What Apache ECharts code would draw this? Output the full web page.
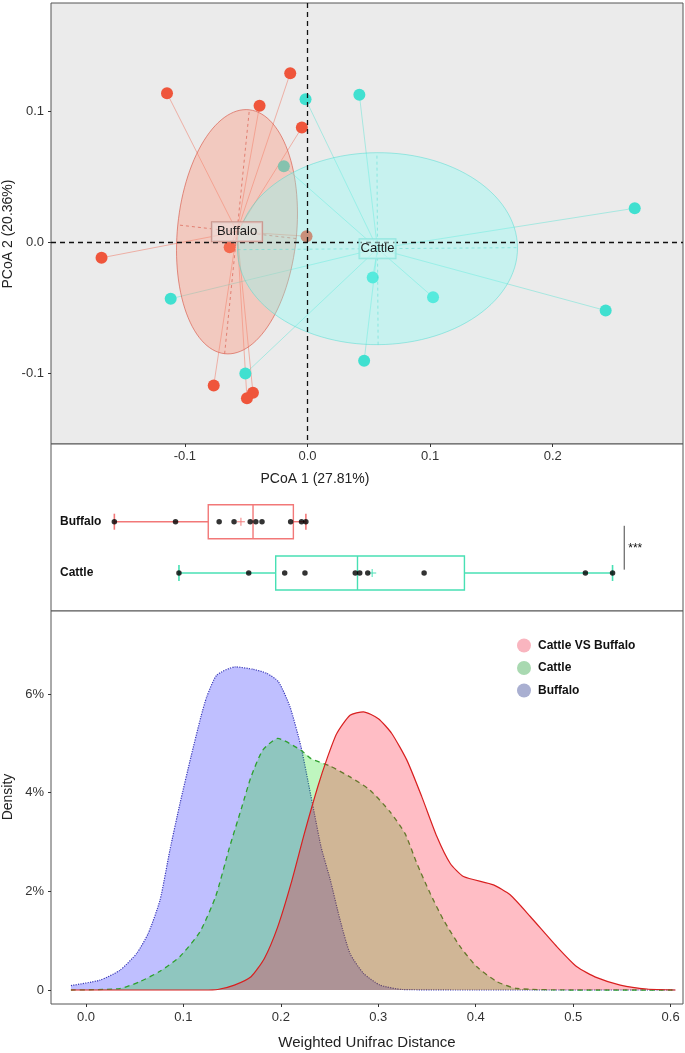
<!DOCTYPE html>
<html><head><meta charset="utf-8">
<script src="https://cdn.jsdelivr.net/npm/echarts@6/dist/echarts.min.js"></script>
<style>html,body{margin:0;padding:0;background:#fff}#c{width:685px;height:1053px}</style>
</head><body><div id="c"></div>
<script>
// ---------- data ----------
const groups = ['Buffalo', 'Cattle'];
const buffaloPC1 = [-0.1146, -0.0141, -0.0391, -0.0046, -0.1680, -0.0635, -0.0765, -0.0445, -0.0494, -0.0008];
const buffaloPC2 = [0.1141, 0.1294, 0.1045, 0.0879, -0.0117, -0.0036, -0.1093, -0.1149, -0.1190, 0.0048];
const cattlePC1 = [-0.0016, 0.0423, -0.0193, 0.2669, -0.1116, -0.0507, 0.0532, 0.1024, 0.2432, 0.0462];
const cattlePC2 = [0.1096, 0.1129, 0.0583, 0.0262, -0.0430, -0.1002, -0.0268, -0.0418, -0.0520, -0.0904];
const pcoaTicksX = [-0.1, 0, 0.1, 0.2];
const pcoaTicksY = [-0.1, 0, 0.1];
const densityTicksX = [0, 0.1, 0.2, 0.3, 0.4, 0.5, 0.6];
const densityTicksY = [0, 0.02, 0.04, 0.06];
const densityNames = ['Cattle VS Buffalo', 'Cattle', 'Buffalo'];
const densBuffalo = [[-0.0154,0.0009],[0.0144,0.0020],[0.0349,0.0040],[0.0520,0.0074],[0.0640,0.0115],[0.0760,0.0182],[0.0862,0.0284],[0.0965,0.0378],[0.1078,0.0473],[0.1180,0.0554],[0.1239,0.0594],[0.1342,0.0638],[0.1530,0.0655],[0.1718,0.0650],[0.1855,0.0642],[0.1975,0.0625],[0.2094,0.0574],[0.2207,0.0493],[0.2276,0.0426],[0.2344,0.0358],[0.2413,0.0290],[0.2505,0.0225],[0.2608,0.0142],[0.2710,0.0074],[0.2847,0.0034],[0.3018,0.0010],[0.3250,0.0001],[0.4000,0],[0.5000,0],[0.6050,0]];
const densCattle = [[-0.0154,0],[0.0349,0.0003],[0.0554,0.0017],[0.0760,0.0038],[0.0965,0.0068],[0.1170,0.0118],[0.1330,0.0189],[0.1470,0.0287],[0.1600,0.0371],[0.1694,0.0432],[0.1814,0.0486],[0.1968,0.0510],[0.2207,0.0486],[0.2310,0.0469],[0.2505,0.0454],[0.2710,0.0432],[0.2916,0.0405],[0.3121,0.0361],[0.3275,0.0317],[0.3395,0.0257],[0.3532,0.0196],[0.3669,0.0142],[0.3840,0.0088],[0.4011,0.0047],[0.4217,0.0017],[0.4422,0.0003],[0.5000,0],[0.6050,0]];
const densBetween = [[-0.0154,0],[0.1200,0],[0.1352,0.0001],[0.1523,0.0010],[0.1694,0.0027],[0.1831,0.0064],[0.1968,0.0128],[0.2105,0.0216],[0.2241,0.0317],[0.2379,0.0412],[0.2481,0.0473],[0.2574,0.0520],[0.2710,0.0557],[0.2847,0.0564],[0.3001,0.0550],[0.3138,0.0520],[0.3293,0.0466],[0.3446,0.0392],[0.3601,0.0311],[0.3737,0.0257],[0.3874,0.0230],[0.4182,0.0213],[0.4353,0.0193],[0.4559,0.0149],[0.4832,0.0088],[0.5038,0.0047],[0.5243,0.0025],[0.5483,0.0010],[0.5757,0.0002],[0.6050,0]];

// ---------- derived ----------
const pc1 = [buffaloPC1, cattlePC1];
const pc2 = [buffaloPC2, cattlePC2];
const ptColor = ['#EF553B', '#40E0D0'];
const ellFill = ['rgba(255,140,115,0.36)', 'rgba(130,255,245,0.34)'];
const ellStroke = ['rgba(215,85,70,0.8)', 'rgba(60,215,205,0.55)'];
const boxColor = ['#F27878', '#48E0B4'];
const groupY = [2, 1];

function ellStats(xs, ys) {
  const n = xs.length;
  const mx = xs.reduce((a, b) => a + b, 0) / n, my = ys.reduce((a, b) => a + b, 0) / n;
  let sxx = 0, syy = 0, sxy = 0;
  for (let i = 0; i < n; i++) { const dx = xs[i] - mx, dy = ys[i] - my; sxx += dx * dx; syy += dy * dy; sxy += dx * dy; }
  sxx /= n; syy /= n; sxy /= n;
  const th = 0.5 * Math.atan2(2 * sxy, sxx - syy);
  const m = (sxx + syy) / 2, r = Math.sqrt(((sxx - syy) / 2) ** 2 + sxy * sxy);
  return { mx, my, a: Math.sqrt(m + r), b: Math.sqrt(Math.max(m - r, 0)), th };
}
const ell = groups.map((g, i) => ellStats(pc1[i], pc2[i]));

function q6(s, p) {
  const n = s.length, h = (n + 1) * p;
  if (h <= 1) return s[0];
  if (h >= n) return s[n - 1];
  const lo = Math.floor(h);
  return s[lo - 1] + (h - lo) * (s[lo] - s[lo - 1]);
}
const boxData = groups.map((g, i) => {
  const s = pc1[i].slice().sort((a, b) => a - b);
  const q1 = q6(s, 0.25), med = q6(s, 0.5), q3 = q6(s, 0.75), iqr = q3 - q1;
  const lo = Math.min(...s.filter(v => v >= q1 - 1.5 * iqr));
  const hi = Math.max(...s.filter(v => v <= q3 + 1.5 * iqr));
  const mean = s.reduce((a, b) => a + b, 0) / s.length;
  return [groupY[i], lo, q1, med, q3, hi, mean, i];
});
const allPC1 = buffaloPC1.concat(cattlePC1);
const sigX = Math.max(...allPC1) + 0.0102;

const FONT = '"Liberation Sans", Arial, sans-serif';
const chart = echarts.init(document.getElementById('c'));

const series = [];
// spider lines
series.push({
  type: 'custom', name: 'spider', xAxisIndex: 0, yAxisIndex: 0, z: 1, silent: true,
  encode: { x: 0, y: 1 },
  data: groups.flatMap((g, i) => pc1[i].map((v, k) => [v, pc2[i][k], i])),
  renderItem: (params, api) => {
    const i = api.value(2), p = api.coord([api.value(0), api.value(1)]), c = api.coord([ell[i].mx, ell[i].my]);
    return { type: 'line', shape: { x1: p[0], y1: p[1], x2: c[0], y2: c[1] }, style: { stroke: ptColor[i], opacity: 0.5, lineWidth: 0.8 } };
  }
});
// points
groups.forEach((g, i) => {
  series.push({
    type: 'scatter', name: g + ' samples', xAxisIndex: 0, yAxisIndex: 0, z: 2, silent: true,
    symbolSize: 12, itemStyle: { color: ptColor[i], opacity: 1 },
    data: pc1[i].map((v, k) => [v, pc2[i][k]])
  });
});
// ellipses
series.push({
  type: 'custom', name: 'ellipses', xAxisIndex: 0, yAxisIndex: 0, z: 3, silent: true,
  encode: { x: 0, y: 1 },
  data: ell.map((e, i) => [e.mx, e.my, i]),
  renderItem: (params, api) => {
    const i = api.value(2), e = ell[i];
    const ct = Math.cos(e.th), st = Math.sin(e.th);
    const pts = [];
    for (let k = 0; k <= 120; k++) {
      const t = 2 * Math.PI * k / 120, c = Math.cos(t), s = Math.sin(t);
      pts.push(api.coord([e.mx + e.a * c * ct - e.b * s * st, e.my + e.a * c * st + e.b * s * ct]));
    }
    const A1 = api.coord([e.mx - e.a * ct, e.my - e.a * st]), A2 = api.coord([e.mx + e.a * ct, e.my + e.a * st]);
    const B1 = api.coord([e.mx + e.b * st, e.my - e.b * ct]), B2 = api.coord([e.mx - e.b * st, e.my + e.b * ct]);
    return { type: 'group', children: [
      { type: 'polygon', shape: { points: pts }, style: { fill: ellFill[i], stroke: ellStroke[i], lineWidth: 0.8 } },
      { type: 'line', shape: { x1: A1[0], y1: A1[1], x2: A2[0], y2: A2[1] }, style: { stroke: ellStroke[i], lineWidth: 0.8, lineDash: [3, 3] } },
      { type: 'line', shape: { x1: B1[0], y1: B1[1], x2: B2[0], y2: B2[1] }, style: { stroke: ellStroke[i], lineWidth: 0.8, lineDash: [3, 3] } }
    ] };
  }
});
// zero reference lines
series.push({
  type: 'custom', name: 'zero', xAxisIndex: 0, yAxisIndex: 0, z: 4, silent: true,
  encode: { x: 0, y: 1 }, data: [[0, 0]],
  renderItem: (params, api) => {
    const cs = params.coordSys, p = api.coord([0, 0]);
    return { type: 'group', children: [
      { type: 'line', shape: { x1: cs.x, y1: p[1], x2: cs.x + cs.width, y2: p[1] }, style: { stroke: '#111', lineWidth: 1.3, lineDash: [5, 4] } },
      { type: 'line', shape: { x1: p[0], y1: cs.y, x2: p[0], y2: cs.y + cs.height }, style: { stroke: '#111', lineWidth: 1.3, lineDash: [5, 4] } }
    ] };
  }
});
// centroid labels
series.push({
  type: 'custom', name: 'centroids', xAxisIndex: 0, yAxisIndex: 0, z: 5, silent: true,
  encode: { x: 0, y: 1 },
  data: ell.map((e, i) => [e.mx, e.my, i]),
  renderItem: (params, api) => {
    const i = api.value(2), c = api.coord([api.value(0), api.value(1)]);
    return { type: 'text', x: c[0], y: c[1], style: {
      text: groups[i], font: '13px ' + FONT, fill: '#1a1a1a', align: 'center', verticalAlign: 'middle',
      backgroundColor: i === 0 ? 'rgba(236,224,220,0.6)' : 'rgba(205,248,244,0.5)',
      borderColor: i === 0 ? '#C9958C' : '#90E6DF', borderWidth: 1, padding: i === 0 ? [3, 5, 3, 5] : [3, 1, 3, 1] } };
  }
});
// box plots
series.push({
  type: 'custom', name: 'boxes', xAxisIndex: 1, yAxisIndex: 1, z: 2, silent: true,
  encode: { x: [1, 2, 3, 4, 5], y: 0 },
  data: boxData,
  renderItem: (params, api) => {
    const y = api.value(0), i = api.value(7), col = boxColor[i];
    const P = v => api.coord([v, y]);
    const lo = P(api.value(1)), q1 = P(api.value(2)), md = P(api.value(3)), q3 = P(api.value(4)), hi = P(api.value(5)), mn = P(api.value(6));
    const cy = lo[1], h = 17, cap = 8, pl = 4;
    const st = { stroke: col, lineWidth: 1.4, fill: null };
    return { type: 'group', children: [
      { type: 'line', shape: { x1: lo[0], y1: cy, x2: q1[0], y2: cy }, style: st },
      { type: 'line', shape: { x1: q3[0], y1: cy, x2: hi[0], y2: cy }, style: st },
      { type: 'line', shape: { x1: lo[0], y1: cy - cap, x2: lo[0], y2: cy + cap }, style: { stroke: col, lineWidth: 1.6 } },
      { type: 'line', shape: { x1: hi[0], y1: cy - cap, x2: hi[0], y2: cy + cap }, style: { stroke: col, lineWidth: 1.6 } },
      { type: 'rect', shape: { x: q1[0], y: cy - h, width: q3[0] - q1[0], height: 2 * h }, style: { stroke: col, lineWidth: 1.4, fill: 'rgba(255,255,255,0)' } },
      { type: 'line', shape: { x1: md[0], y1: cy - h, x2: md[0], y2: cy + h }, style: st },
      { type: 'line', shape: { x1: mn[0] - pl, y1: cy, x2: mn[0] + pl, y2: cy }, style: { stroke: col, lineWidth: 1.3, opacity: 0.75 } },
      { type: 'line', shape: { x1: mn[0], y1: cy - pl, x2: mn[0], y2: cy + pl }, style: { stroke: col, lineWidth: 1.3, opacity: 0.75 } }
    ] };
  }
});
series.push({
  type: 'scatter', name: 'box points', xAxisIndex: 1, yAxisIndex: 1, z: 3, silent: true,
  symbolSize: 5.5, itemStyle: { color: '#000' },
  data: groups.flatMap((g, i) => pc1[i].map(v => [v, groupY[i]]))
});
// significance bracket
series.push({
  type: 'custom', name: 'sig', xAxisIndex: 1, yAxisIndex: 1, z: 3, silent: true,
  encode: { x: 0, y: 1 }, data: [[sigX, 1.5]],
  renderItem: (params, api) => {
    const a = api.coord([sigX, 1.92]), b = api.coord([sigX, 1.065]), m = api.coord([sigX, 1.5]);
    return { type: 'group', children: [
      { type: 'line', shape: { x1: a[0], y1: a[1], x2: b[0], y2: b[1] }, style: { stroke: '#444', lineWidth: 1 } },
      { type: 'text', x: m[0] + 4, y: m[1] + 1, style: { text: '***', fill: '#111', font: '12px ' + FONT, verticalAlign: 'middle', align: 'left' } }
    ] };
  }
});
// densities
const densCfg = [
  { name: 'Buffalo', data: densBuffalo, line: { color: '#3A3AB8', type: 'dotted', width: 1.2 }, area: 'rgba(0,0,255,0.25)' },
  { name: 'Cattle', data: densCattle, line: { color: '#2EA02E', type: [5, 4], width: 1.3 }, area: 'rgba(0,220,0,0.25)' },
  { name: 'Cattle VS Buffalo', data: densBetween, line: { color: '#D82020', type: 'solid', width: 1.2 }, area: 'rgba(255,10,40,0.27)' }
];
densCfg.forEach((d, k) => {
  series.push({
    type: 'line', name: d.name, xAxisIndex: 2, yAxisIndex: 2, z: 2 + k, silent: true,
    showSymbol: false, smooth: 0.2, data: d.data,
    itemStyle: { color: d.line.color },
    lineStyle: d.line, areaStyle: { color: d.area, opacity: 1 }
  });
});

const axisTxt = { fontSize: 13, color: '#333', fontFamily: FONT };
const noLine = { show: false, onZero: false };
chart.setOption({
  animation: false,
  textStyle: { fontFamily: FONT },
  grid: [
    { left: 51, top: 3, width: 632, height: 441, show: true, backgroundColor: '#EBEBEB', borderColor: '#555', borderWidth: 1 },
    { left: 51, top: 444, width: 632, height: 167, show: true, backgroundColor: '#fff', borderColor: '#555', borderWidth: 1 },
    { left: 51, top: 611, width: 632, height: 393, show: true, backgroundColor: '#fff', borderColor: '#555', borderWidth: 1 }
  ],
  xAxis: [
    { gridIndex: 0, type: 'value', position: 'bottom', min: -0.20922, max: 0.30628, axisLine: noLine, splitLine: { show: false },
      axisTick: { show: true, length: 3, customValues: pcoaTicksX, lineStyle: { color: '#333' } },
      axisLabel: Object.assign({ customValues: pcoaTicksX, formatter: v => v.toFixed(1), margin: 6 }, axisTxt) },
    { gridIndex: 1, type: 'value', min: -0.2233, max: 0.3284, show: false, axisLine: noLine, splitLine: { show: false } },
    { gridIndex: 2, type: 'value', position: 'bottom', min: -0.03585, max: 0.61268, axisLine: noLine, splitLine: { show: false },
      axisTick: { show: true, length: 3, customValues: densityTicksX, lineStyle: { color: '#333' } },
      axisLabel: Object.assign({ customValues: densityTicksX, formatter: v => v.toFixed(1), margin: 7 }, axisTxt) }
  ],
  yAxis: [
    { gridIndex: 0, type: 'value', position: 'left', min: -0.15405, max: 0.1831, axisLine: noLine, splitLine: { show: false },
      axisTick: { show: true, length: 3, customValues: pcoaTicksY, lineStyle: { color: '#333' } },
      axisLabel: Object.assign({ customValues: pcoaTicksY, formatter: v => v.toFixed(1), margin: 7 }, axisTxt) },
    { gridIndex: 1, type: 'value', position: 'left', min: 0.2593, max: 3.5146, axisLine: noLine, splitLine: { show: false },
      axisTick: { show: false },
      axisLabel: { customValues: [1, 2], inside: true, margin: 9, formatter: v => groups[groupY.indexOf(v)], fontWeight: 'bold', fontSize: 12, color: '#111', fontFamily: FONT } },
    { gridIndex: 2, type: 'value', position: 'left', min: -0.002838, max: 0.07683, axisLine: noLine, splitLine: { show: false },
      axisTick: { show: true, length: 3, customValues: densityTicksY, lineStyle: { color: '#333' } },
      axisLabel: Object.assign({ customValues: densityTicksY, formatter: v => v === 0 ? '0' : Math.round(v * 100) + '%', margin: 7 }, axisTxt) }
  ],
  legend: {
    orient: 'vertical', left: 517, top: 638.5, padding: 0, itemWidth: 14, itemHeight: 14, itemGap: 8.5, icon: 'circle', selectedMode: false,
    textStyle: { fontSize: 12, fontWeight: 'bold', color: '#111', fontFamily: FONT, padding: [0, 0, 0, 2] },
    data: [
      { name: densityNames[0], itemStyle: { color: '#F9B5BF' } },
      { name: densityNames[1], itemStyle: { color: '#A9D9B1' } },
      { name: densityNames[2], itemStyle: { color: '#A9AFD1' } }
    ]
  },
  graphic: [
    { type: 'text', x: 8, y: 234, rotation: Math.PI / 2, style: { text: 'PCoA 2 (20.36%)', font: '14px ' + FONT, fill: '#222', align: 'center', verticalAlign: 'middle' } },
    { type: 'text', x: 315, y: 479, style: { text: 'PCoA 1 (27.81%)', font: '14px ' + FONT, fill: '#222', align: 'center', verticalAlign: 'middle' } },
    { type: 'text', x: 8, y: 797, rotation: Math.PI / 2, style: { text: 'Density', font: '14px ' + FONT, fill: '#222', align: 'center', verticalAlign: 'middle' } },
    { type: 'text', x: 367, y: 1043, style: { text: 'Weighted Unifrac Distance', font: '15px ' + FONT, fill: '#222', align: 'center', verticalAlign: 'middle' } }
  ],
  series: series
});
</script>
</body></html>
